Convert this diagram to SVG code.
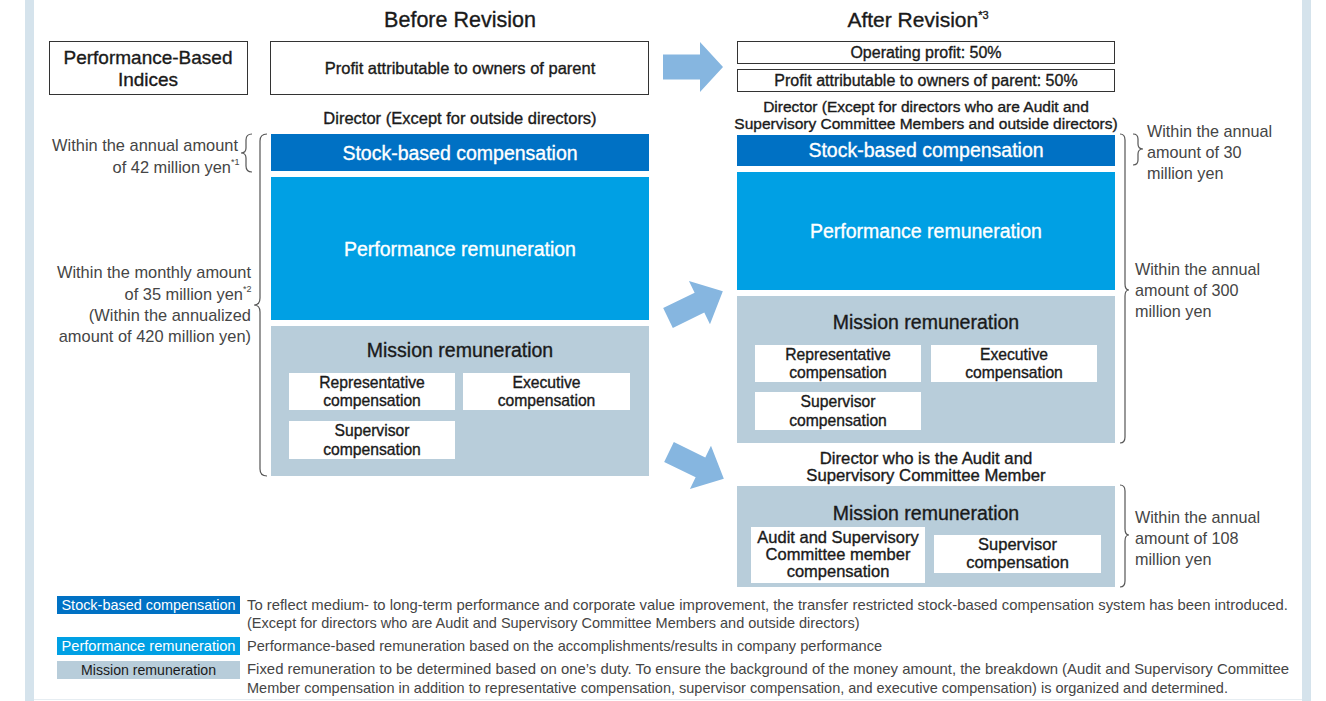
<svg xmlns="http://www.w3.org/2000/svg" width="1326" height="701" viewBox="0 0 1326 701">
<style>
text{font-family:"Liberation Sans",Arial,Helvetica,sans-serif;}
.t{fill:#1a1a1a;stroke:#1a1a1a;stroke-width:0.35;}
.w{fill:#fff;stroke:#fff;stroke-width:0.35;}
.g{fill:#454545;}
.c{text-anchor:middle;}
.e{text-anchor:end;}
.box{fill:#fff;stroke:#333;stroke-width:1;}
.sub{fill:#fff;}
.sbc{fill:#0071c4;}
.pr{fill:#00a0e4;}
.mr{fill:#b8cdda;}
.arr{fill:#86b6e0;}
.br{fill:none;stroke:#555;stroke-width:1.2;}
.big{font-size:19.5px;}
.sb{font-size:15.7px;}
.ann{font-size:16.4px;}
</style>
<rect x="0" y="0" width="1326" height="701" fill="#fff"/>
<rect x="25" y="0" width="9" height="701" fill="#d5e3ec"/>
<rect x="1302" y="0" width="9" height="701" fill="#d5e3ec"/>
<line x1="34" y1="699.5" x2="1302" y2="699.5" stroke="#e6edf2" stroke-width="1"/>

<text class="t c" x="460" y="27" font-size="21.5">Before Revision</text>
<text class="t c" x="918" y="27" font-size="21">After Revision<tspan font-size="11" dy="-8">*3</tspan></text>

<g id="indices">
<rect class="box" x="49.5" y="41.5" width="198" height="53"/>
<text class="t c" x="148" y="64" font-size="19">Performance-Based</text>
<text class="t c" x="148" y="86" font-size="19">Indices</text>
</g>
<g id="before-index">
<rect class="box" x="270.5" y="41.5" width="378" height="53"/>
<text class="t c" x="460" y="74" font-size="16.5">Profit attributable to owners of parent</text>
</g>
<g id="after-index">
<rect class="box" x="737.5" y="41.5" width="377" height="22"/>
<text class="t c" x="926" y="58" font-size="16">Operating profit: 50%</text>
<rect class="box" x="737.5" y="69.5" width="377" height="22"/>
<text class="t c" x="926" y="86" font-size="16">Profit attributable to owners of parent: 50%</text>
</g>

<g id="before">
<text class="t c" x="460" y="124" font-size="16.5">Director (Except for outside directors)</text>
<rect class="sbc" x="271" y="134" width="378" height="37"/>
<text class="w c big" x="460" y="160">Stock-based compensation</text>
<rect class="pr" x="271" y="177" width="378" height="143"/>
<text class="w c big" x="460" y="256">Performance remuneration</text>
<rect class="mr" x="271" y="326" width="378" height="150"/>
<text class="t c big" x="460" y="357">Mission remuneration</text>
<rect class="sub" x="289" y="373" width="166" height="37"/>
<text class="t c sb" x="372" y="388">Representative</text>
<text class="t c sb" x="372" y="406">compensation</text>
<rect class="sub" x="463" y="373" width="167" height="37"/>
<text class="t c sb" x="546.5" y="388">Executive</text>
<text class="t c sb" x="546.5" y="406">compensation</text>
<rect class="sub" x="289" y="421" width="166" height="38"/>
<text class="t c sb" x="372" y="436">Supervisor</text>
<text class="t c sb" x="372" y="455">compensation</text>
</g>

<g id="before-limits">
<text class="g e ann" x="238" y="151">Within the annual amount</text>
<text class="g e ann" x="231" y="173">of 42 million yen</text>
<text class="g" x="231" y="165" font-size="9">*1</text>
<text class="g e ann" x="251" y="278">Within the monthly amount</text>
<text class="g e ann" x="243" y="300">of 35 million yen</text>
<text class="g" x="243" y="292" font-size="9">*2</text>
<text class="g e ann" x="251" y="321">(Within the annualized</text>
<text class="g e ann" x="251" y="342">amount of 420 million yen)</text>
<path class="br" d="M252,134 Q246,134 246,140 L246,148 Q246,153 241,153 Q246,153 246,158 L246,166 Q246,172 252,172"/>
<path class="br" d="M267,134 Q260,134 260,141 L260,298 Q260,305 254,305 Q260,305 260,312 L260,469 Q260,476 267,476"/>
</g>

<g id="after">
<text class="t c" x="926" y="112" font-size="15.5">Director (Except for directors who are Audit and</text>
<text class="t c" x="926" y="129" font-size="15.5">Supervisory Committee Members and outside directors)</text>
<rect class="sbc" x="737" y="135" width="378" height="31"/>
<text class="w c big" x="926" y="157">Stock-based compensation</text>
<rect class="pr" x="737" y="172" width="378" height="118"/>
<text class="w c big" x="926" y="238">Performance remuneration</text>
<rect class="mr" x="737" y="296" width="378" height="147"/>
<text class="t c big" x="926" y="329">Mission remuneration</text>
<rect class="sub" x="755" y="345" width="166" height="37"/>
<text class="t c sb" x="838" y="360">Representative</text>
<text class="t c sb" x="838" y="378">compensation</text>
<rect class="sub" x="931" y="345" width="166" height="37"/>
<text class="t c sb" x="1014" y="360">Executive</text>
<text class="t c sb" x="1014" y="378">compensation</text>
<rect class="sub" x="755" y="392" width="166" height="38"/>
<text class="t c sb" x="838" y="407">Supervisor</text>
<text class="t c sb" x="838" y="426">compensation</text>
</g>

<g id="audit">
<text class="t c" x="926" y="464" font-size="16.7">Director who is the Audit and</text>
<text class="t c" x="926" y="481" font-size="16.7">Supervisory Committee Member</text>
<rect class="mr" x="737" y="486" width="378" height="101"/>
<text class="t c big" x="926" y="520">Mission remuneration</text>
<rect class="sub" x="751" y="527" width="174" height="56"/>
<text class="t c" x="838" y="543" font-size="16.5">Audit and Supervisory</text>
<text class="t c" x="838" y="560" font-size="16.5">Committee member</text>
<text class="t c" x="838" y="577" font-size="16.5">compensation</text>
<rect class="sub" x="934" y="535" width="167" height="38"/>
<text class="t c" x="1017.5" y="550" font-size="16.5">Supervisor</text>
<text class="t c" x="1017.5" y="568" font-size="16.5">compensation</text>
</g>

<g id="after-limits">
<text class="g" x="1147" y="137" font-size="16.2">Within the annual</text>
<text class="g" x="1147" y="158" font-size="16.2">amount of 30</text>
<text class="g" x="1147" y="179" font-size="16.2">million yen</text>
<text class="g" x="1135" y="275" font-size="16.2">Within the annual</text>
<text class="g" x="1135" y="296" font-size="16.2">amount of 300</text>
<text class="g" x="1135" y="317" font-size="16.2">million yen</text>
<text class="g" x="1135" y="523" font-size="16.2">Within the annual</text>
<text class="g" x="1135" y="544" font-size="16.2">amount of 108</text>
<text class="g" x="1135" y="565" font-size="16.2">million yen</text>
<path class="br" d="M1133,134 Q1138,134 1138,139 L1138,144 Q1138,149 1143,149 Q1138,149 1138,154 L1138,160 Q1138,165 1133,165"/>
<path class="br" d="M1120,134 Q1125,134 1125,140 L1125,284 Q1125,290 1129,290 Q1125,290 1125,296 L1125,437 Q1125,443 1120,443"/>
<path class="br" d="M1120,485 Q1125,485 1125,491 L1125,529 Q1125,535 1129,535 Q1125,535 1125,541 L1125,581 Q1125,587 1120,587"/>
</g>

<g id="connectors">
<path class="arr" transform="translate(663,67)" d="M0,-12.5 L37,-12.5 L37,-25 L60,0 L37,25 L37,12.5 L0,12.5 Z"/>
<path class="arr" transform="translate(668,318) rotate(-26)" d="M0,-11 L35,-11 L35,-24 L61,0 L35,24 L35,11 L0,11 Z"/>
<path class="arr" transform="translate(669,452) rotate(26)" d="M0,-11 L35,-11 L35,-24 L61,0 L35,24 L35,11 L0,11 Z"/>
</g>

<g id="legend">
<rect class="sbc" x="57" y="596" width="183" height="18"/>
<text x="148.5" y="610" font-size="15" fill="#fff" class="c" textLength="174" lengthAdjust="spacingAndGlyphs">Stock-based compensation</text>
<rect class="pr" x="57" y="637" width="183" height="18"/>
<text x="148.5" y="651" font-size="15" fill="#fff" class="c" textLength="174" lengthAdjust="spacingAndGlyphs">Performance remuneration</text>
<rect class="mr" x="57" y="661" width="183" height="18"/>
<text x="148.5" y="675" font-size="15" fill="#1a1a1a" class="c" textLength="135" lengthAdjust="spacingAndGlyphs">Mission remuneration</text>
<text class="g" x="247" y="610" font-size="14.5" textLength="1041" lengthAdjust="spacingAndGlyphs">To reflect medium- to long-term performance and corporate value improvement, the transfer restricted stock-based compensation system has been introduced.</text>
<text class="g" x="247" y="628" font-size="14.5">(Except for directors who are Audit and Supervisory Committee Members and outside directors)</text>
<text class="g" x="247" y="651" font-size="14.6">Performance-based remuneration based on the accomplishments/results in company performance</text>
<text class="g" x="247" y="674" font-size="14.5" textLength="1042" lengthAdjust="spacingAndGlyphs">Fixed remuneration to be determined based on one’s duty. To ensure the background of the money amount, the breakdown (Audit and Supervisory Committee</text>
<text class="g" x="247" y="693" font-size="14.5">Member compensation in addition to representative compensation, supervisor compensation, and executive compensation) is organized and determined.</text>
</g>
</svg>
